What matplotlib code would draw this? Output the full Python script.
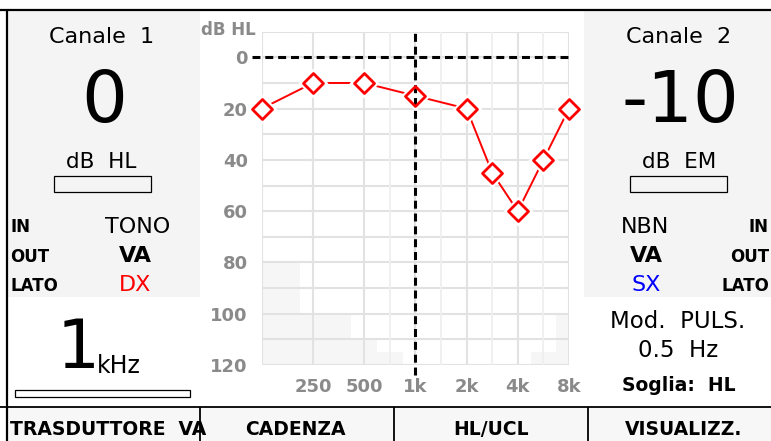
import numpy as np
import matplotlib
matplotlib.use("Agg")
import matplotlib.pyplot as plt
from matplotlib.patches import Rectangle
from matplotlib.lines import Line2D
from matplotlib.markers import MarkerStyle

# ---- audiogram data -------------------------------------------------------
freqs_hz = [125, 250, 500, 1000, 2000, 3000, 4000, 6000, 8000]
threshold_db = [20, 10, 10, 15, 20, 45, 60, 40, 20]

# maximum output of the transducer on the half-octave grid
limit_freqs_hz = [125, 177, 250, 354, 500, 750, 1000, 1500, 2000, 3000, 4000, 6000, 8000]
limit_db = [80, 80, 100, 100, 110, 115, 120, 120, 120, 120, 120, 115, 100]

tick_freqs_hz = [250, 500, 1000, 2000, 4000, 8000]
tick_labels = ["250", "500", "1k", "2k", "4k", "8k"]
level_ticks = [0, 20, 40, 60, 80, 100, 120]

current_freq_hz = 1000
ch1_level, ch2_level = "0", "-10"

# ---- layout helpers (pixel coordinates, origin top-left) -------------------
W, H = 771, 441
fig = plt.figure(figsize=(W / 100, H / 100), dpi=100, facecolor="white")


def fx(px):
    return px / W


def fy(py):
    return 1 - py / H


def box(x0, y0, x1, y1, fc="none", ec="none", lw=0, z=0):
    fig.add_artist(Rectangle((fx(x0), fy(y1)), (x1 - x0) / W, (y1 - y0) / H,
                             transform=fig.transFigure, facecolor=fc,
                             edgecolor=ec, linewidth=lw, zorder=z))


def hline(x0, x1, y, lw=1.5, color="black"):
    fig.add_artist(Line2D([fx(x0), fx(x1)], [fy(y), fy(y)], transform=fig.transFigure,
                          color=color, linewidth=lw, solid_capstyle="butt", zorder=3))


def vline(x, y0, y1, lw=1.5, color="black"):
    fig.add_artist(Line2D([fx(x), fx(x)], [fy(y0), fy(y1)], transform=fig.transFigure,
                          color=color, linewidth=lw, solid_capstyle="butt", zorder=3))


def txt(x, y, s, size, ha="center", weight="normal", color="black", **kw):
    fig.text(fx(x), fy(y), s, fontsize=size, ha=ha, va="baseline",
             fontweight=weight, color=color, family="DejaVu Sans", **kw)


def octave_pos(f):
    # audiogram position: octaves above 125 Hz snapped to half-octave steps
    return np.round(2 * np.log2(np.asarray(f, dtype=float) / 125.0)) / 2


PANEL = "#f4f4f4"

# ---- panels and frame ------------------------------------------------------
box(8, 11, 200, 297, fc=PANEL)
box(584, 11, 771, 297, fc=PANEL)
box(8, 407, 771, 441, fc="#f7f7f7")

hline(0, 771, 10, lw=1.6)
vline(7, 10, 441, lw=1.6)
hline(0, 771, 406.5, lw=1.3)
for xd in (200, 394, 588):
    vline(xd, 406.5, 441, lw=1.3)

# ---- channel 1 -------------------------------------------------------------
txt(102, 43, "Canale  1", 16)
txt(104, 122, ch1_level, 52)
txt(101, 168, "dB  HL", 15.5)
box(54, 176, 151, 192, fc="none", ec="black", lw=0.9, z=2)

txt(10, 232, "IN", 12, ha="left", weight="bold")
txt(10, 262, "OUT", 12, ha="left", weight="bold")
txt(10, 291, "LATO", 12, ha="left", weight="bold")
txt(138, 233, "TONO", 16)
txt(135, 262, "VA", 16, weight="bold")
txt(135, 291, "DX", 16, color="#ff0000")

txt(78, 368, "1", 49)
txt(97, 373, "kHz", 17, ha="left")
box(15, 390, 190, 397, fc="white", ec="black", lw=0.9, z=2)

# ---- channel 2 -------------------------------------------------------------
txt(679, 43, "Canale  2", 16)
txt(680, 122, ch2_level, 52)
txt(679, 168, "dB  EM", 15.5)
box(630, 176, 727, 192, fc="none", ec="black", lw=0.9, z=2)

txt(645, 233, "NBN", 16)
txt(646, 262, "VA", 16, weight="bold")
txt(646, 291, "SX", 16, color="#0000ff")
txt(769, 232, "IN", 12, ha="right", weight="bold")
txt(769, 262, "OUT", 12, ha="right", weight="bold")
txt(769, 291, "LATO", 12, ha="right", weight="bold")

txt(678, 328, "Mod.  PULS.", 16.5)
txt(678, 357, "0.5  Hz", 16.5)
txt(679, 391, "Soglia:  HL", 13.5, weight="bold")

# ---- soft keys -------------------------------------------------------------
txt(10, 435, "TRASDUTTORE  VA", 13.5, ha="left", weight="bold")
txt(295, 435, "CADENZA", 13.5, weight="bold")
txt(491, 435, "HL/UCL", 13.5, weight="bold")
txt(684, 435, "VISUALIZZ.", 13.5, weight="bold")

# ---- audiogram -------------------------------------------------------------
ax = fig.add_axes([fx(261.7), fy(365), (569 - 261.7) / W, (365 - 31.7) / H])
ax.set_facecolor("white")
ax.set_xlim(0, 6)
ax.set_ylim(120, -10)
for s in ax.spines.values():
    s.set_visible(False)

GRID = "#e2e2e2"
for lvl in range(-10, 121, 10):
    ax.axhline(lvl, color=GRID, lw=1.5, zorder=1)
for p in octave_pos([125, 250, 500, 1000, 2000, 4000, 8000]):
    ax.axvline(p, color=GRID, lw=1.5, zorder=1)
for p in octave_pos([750, 1500, 3000, 6000]):
    ax.axvline(p, color="#efefef", lw=1.3, zorder=1)

lim_x = octave_pos(limit_freqs_hz)
ax.fill_between(lim_x, limit_db, 120, step="mid", color="#f6f6f6", lw=0, zorder=0.5)

x = octave_pos(freqs_hz)
ax.plot(x, threshold_db, color="#ff0000", lw=1.4, zorder=2)
ax.plot(x, threshold_db, ls="none", marker="D", ms=15.5, mfc="white", mec="none", zorder=3)

dash = (2.6, 1.6)
ax.axhline(0, xmin=-0.032, xmax=1.0, color="black", lw=2.2, dashes=dash,
           clip_on=False, zorder=4)
ax.axvline(octave_pos(current_freq_hz), ymin=-0.03, ymax=1.0, color="black", lw=2.2,
           dashes=dash, clip_on=False, zorder=4)

ax.plot(x, threshold_db, ls="none", marker=MarkerStyle("D", joinstyle="round"),
        ms=10.5, mfc="none", mec="#ff0000", mew=2.0, zorder=5, clip_on=False)

ax.set_xticks(octave_pos(tick_freqs_hz))
ax.set_xticklabels(tick_labels)
ax.set_yticks(level_ticks)
ax.tick_params(length=0, labelsize=13, labelcolor="#8a8a8a")
ax.tick_params(axis="x", pad=9)
ax.tick_params(axis="y", pad=10)
for lab in ax.get_xticklabels() + ax.get_yticklabels():
    lab.set_fontweight("bold")

txt(201, 35, "dB HL", 12, ha="left", weight="bold", color="#8a8a8a")

fig.savefig("out.png", dpi=100, facecolor="white")
